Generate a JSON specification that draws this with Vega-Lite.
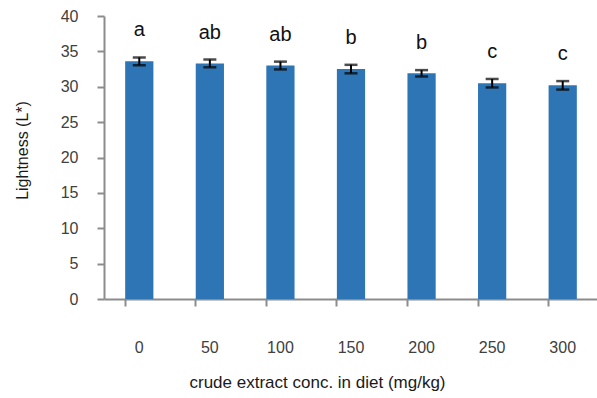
{
  "$schema": "https://vega.github.io/schema/vega-lite/v6.json",
  "autosize": "none",
  "width": 494,
  "height": 283,
  "padding": {"left": 104, "top": 16, "right": 0, "bottom": 99},
  "background": "white",
  "config": {
    "view": {"stroke": null},
    "font": "Liberation Sans",
    "axis": {
      "titleFont": "Liberation Sans", "titleFontWeight": "normal", "titleColor": "#1a1a1a",
      "labelFont": "Liberation Sans", "labelFontSize": 16, "labelColor": "#404040",
      "tickColor": "#8c8c8c", "tickWidth": 2, "domainColor": "#8c8c8c", "domainWidth": 2, "grid": false
    },
    "axisX": {"titleFontSize": 17, "titlePadding": 19, "titleX": 213, "labelAngle": 0, "labelPadding": 33, "bandPosition": 0, "tickSize": 7},
    "axisY": {"titleFontSize": 16, "titlePadding": 30, "titleY": 134, "labelPadding": 19, "tickSize": 7, "tickCount": 8}
  },
  "data": {"values": [
    {"conc": "0", "L": 33.6, "low": 33.05, "high": 34.15, "grp": "a"},
    {"conc": "50", "L": 33.3, "low": 32.75, "high": 33.85, "grp": "ab"},
    {"conc": "100", "L": 33.0, "low": 32.45, "high": 33.55, "grp": "ab"},
    {"conc": "150", "L": 32.5, "low": 31.9, "high": 33.1, "grp": "b"},
    {"conc": "200", "L": 31.9, "low": 31.45, "high": 32.35, "grp": "b"},
    {"conc": "250", "L": 30.5, "low": 29.9, "high": 31.1, "grp": "c"},
    {"conc": "300", "L": 30.2, "low": 29.6, "high": 30.8, "grp": "c"}
  ]},
  "encoding": {
    "x": {
      "field": "conc", "type": "nominal", "sort": null,
      "scale": {"paddingInner": 0.6, "paddingOuter": 0.3},
      "title": "crude extract conc. in diet (mg/kg)"
    }
  },
  "layer": [
    {
      "mark": {"type": "bar", "color": "#2E75B6"},
      "encoding": {
        "y": {"field": "L", "type": "quantitative", "scale": {"domain": [0, 40]}, "title": "Lightness (L*)"}
      }
    },
    {
      "mark": {"type": "rule", "color": "black", "strokeWidth": 2},
      "encoding": {"y": {"field": "low", "type": "quantitative", "title": "Lightness (L*)"}, "y2": {"field": "high"}}
    },
    {
      "mark": {"type": "tick", "color": "black", "thickness": 2.5, "size": 13},
      "encoding": {"y": {"field": "low", "type": "quantitative", "title": "Lightness (L*)"}}
    },
    {
      "mark": {"type": "tick", "color": "black", "thickness": 2.5, "size": 13},
      "encoding": {"y": {"field": "high", "type": "quantitative", "title": "Lightness (L*)"}}
    },
    {
      "mark": {"type": "text", "fontSize": 20, "color": "#111111", "dy": -27, "baseline": "middle", "font": "Liberation Sans"},
      "encoding": {"y": {"field": "high", "type": "quantitative", "title": "Lightness (L*)"}, "text": {"field": "grp"}}
    }
  ]
}
